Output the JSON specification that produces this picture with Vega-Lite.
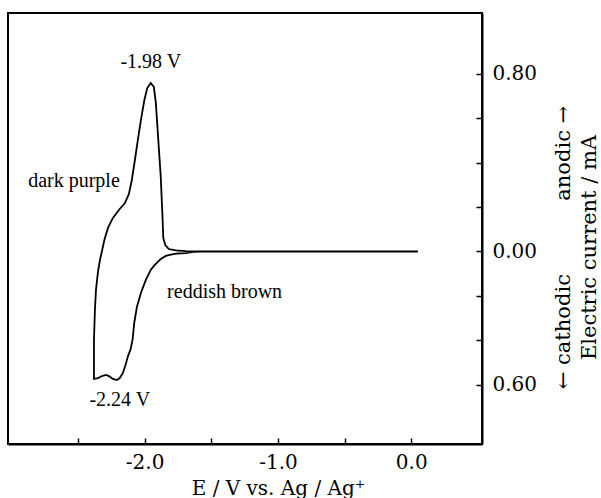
{
  "$schema": "https://vega.github.io/schema/vega-lite/v6.json",
  "width": 474,
  "height": 431,
  "padding": {"left": 8, "top": 13, "right": 0, "bottom": 0},
  "background": "white",
  "config": {
    "view": {"stroke": "black", "strokeWidth": 2},
    "axis": {"grid": false, "domainColor": "black", "domainWidth": 2, "tickColor": "black", "tickWidth": 1.5, "labelColor": "black", "titleColor": "black", "labelFont": "DejaVu Serif", "titleFont": "DejaVu Serif", "titleFontWeight": "normal"}
  },
  "datasets": {
    "cv": [
      {"k": 1, "E": 0.05, "I": 0.0},
      {"k": 2, "E": -0.83, "I": 0.0},
      {"k": 3, "E": -1.579, "I": 0.0},
      {"k": 4, "E": -1.632, "I": -0.002},
      {"k": 5, "E": -1.692, "I": -0.007},
      {"k": 6, "E": -1.752, "I": -0.009},
      {"k": 7, "E": -1.804, "I": -0.014},
      {"k": 8, "E": -1.841, "I": -0.02},
      {"k": 9, "E": -1.879, "I": -0.034},
      {"k": 10, "E": -1.901, "I": -0.047},
      {"k": 11, "E": -1.931, "I": -0.065},
      {"k": 12, "E": -1.954, "I": -0.083},
      {"k": 13, "E": -1.991, "I": -0.128},
      {"k": 14, "E": -2.028, "I": -0.187},
      {"k": 15, "E": -2.058, "I": -0.25},
      {"k": 16, "E": -2.078, "I": -0.322},
      {"k": 17, "E": -2.09, "I": -0.395},
      {"k": 18, "E": -2.105, "I": -0.44},
      {"k": 19, "E": -2.124, "I": -0.47},
      {"k": 20, "E": -2.143, "I": -0.51},
      {"k": 21, "E": -2.163, "I": -0.547},
      {"k": 22, "E": -2.186, "I": -0.57},
      {"k": 23, "E": -2.208, "I": -0.579},
      {"k": 24, "E": -2.238, "I": -0.574},
      {"k": 25, "E": -2.268, "I": -0.561},
      {"k": 26, "E": -2.29, "I": -0.556},
      {"k": 27, "E": -2.32, "I": -0.561},
      {"k": 28, "E": -2.35, "I": -0.57},
      {"k": 29, "E": -2.38, "I": -0.574},
      {"k": 30, "E": -2.38, "I": -0.534},
      {"k": 31, "E": -2.38, "I": -0.399},
      {"k": 32, "E": -2.373, "I": -0.264},
      {"k": 33, "E": -2.365, "I": -0.173},
      {"k": 34, "E": -2.35, "I": -0.092},
      {"k": 35, "E": -2.335, "I": -0.038},
      {"k": 36, "E": -2.32, "I": 0.002},
      {"k": 37, "E": -2.302, "I": 0.052},
      {"k": 38, "E": -2.275, "I": 0.106},
      {"k": 39, "E": -2.238, "I": 0.151},
      {"k": 40, "E": -2.193, "I": 0.187},
      {"k": 41, "E": -2.148, "I": 0.218},
      {"k": 42, "E": -2.118, "I": 0.259},
      {"k": 43, "E": -2.096, "I": 0.322},
      {"k": 44, "E": -2.073, "I": 0.412},
      {"k": 45, "E": -2.051, "I": 0.502},
      {"k": 46, "E": -2.028, "I": 0.592},
      {"k": 47, "E": -2.002, "I": 0.682},
      {"k": 48, "E": -1.98, "I": 0.736},
      {"k": 49, "E": -1.954, "I": 0.759},
      {"k": 50, "E": -1.931, "I": 0.741},
      {"k": 51, "E": -1.916, "I": 0.669},
      {"k": 52, "E": -1.899, "I": 0.516},
      {"k": 53, "E": -1.879, "I": 0.336},
      {"k": 54, "E": -1.866, "I": 0.155},
      {"k": 55, "E": -1.86, "I": 0.061},
      {"k": 56, "E": -1.845, "I": 0.029},
      {"k": 57, "E": -1.819, "I": 0.011},
      {"k": 58, "E": -1.766, "I": 0.005},
      {"k": 59, "E": -1.692, "I": 0.002},
      {"k": 60, "E": -1.579, "I": 0.0}
    ],
    "notes": [
      {"E": -1.954, "I": 0.854, "t": "-1.98 V"},
      {"E": -2.53, "I": 0.318, "t": "dark purple"},
      {"E": -1.4, "I": -0.182, "t": "reddish brown"},
      {"E": -2.186, "I": -0.669, "t": "-2.24 V"}
    ]
  },
  "layer": [
    {
      "data": {"name": "cv"},
      "mark": {"type": "line", "color": "black", "strokeWidth": 1.8, "interpolate": "linear"},
      "encoding": {
        "x": {
          "field": "E", "type": "quantitative",
          "scale": {"domain": [-3.025, 0.531], "nice": false, "zero": false},
          "axis": {
            "orient": "bottom",
            "values": [-2.5, -2, -1.5, -1, -0.5, 0],
            "labelExpr": "datum.value == -2 ? '-2.0' : datum.value == -1 ? '-1.0' : datum.value == 0 ? '0.0' : ''",
            "tickSize": -6,
            "labelPadding": 14,
            "labelFontSize": 20,
            "title": "E / V vs. Ag / Ag⁺",
            "titleFontSize": 20,
            "titleX": 270,
            "titleY": 50,
            "titleBaseline": "alphabetic",
            "titleAnchor": "middle",
            "titleAlign": "center"
          }
        },
        "y": {
          "field": "I", "type": "quantitative",
          "scale": {"domain": [-0.867, 1.074], "nice": false, "zero": false},
          "axis": {
            "orient": "right",
            "values": [-0.6, -0.4, -0.2, 0, 0.2, 0.4, 0.6, 0.8],
            "labelExpr": "datum.value == 0.8 ? '0.80' : datum.value == 0 ? '0.00' : datum.value == -0.6 ? '0.60' : ''",
            "tickSize": -6,
            "labelPadding": 16,
            "labelFontSize": 20,
            "labelBaseline": "middle",
            "title": ["← cathodic\u00a0\u00a0\u00a0\u00a0\u00a0\u00a0\u00a0\u00a0\u00a0\u00a0\u00a0anodic →", "Electric current / mA"],
            "titleFontSize": 21,
            "titleLineHeight": 26,
            "titleAngle": 270,
            "titleX": 81,
            "titleY": 234,
            "titleBaseline": "middle",
            "titleAlign": "center"
          }
        },
        "order": {"field": "k", "type": "quantitative"}
      }
    },
    {
      "data": {"name": "notes"},
      "mark": {"type": "text", "font": "Liberation Serif", "fontSize": 20, "color": "black", "align": "center", "baseline": "middle"},
      "encoding": {
        "x": {"field": "E", "type": "quantitative"},
        "y": {"field": "I", "type": "quantitative"},
        "text": {"field": "t"}
      }
    }
  ]
}
